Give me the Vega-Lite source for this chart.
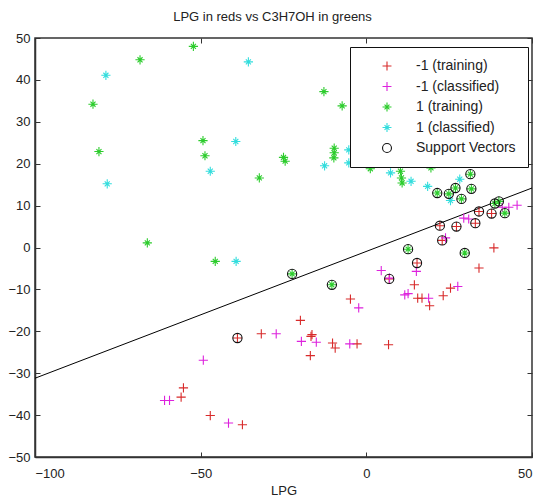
{
  "$schema": "https://vega.github.io/schema/vega-lite/v6.json",
  "width": 497,
  "height": 419,
  "autosize": "none",
  "padding": {"left": 35, "top": 38, "right": 7, "bottom": 45},
  "background": "white",
  "config": {
    "font": "Liberation Sans",
    "view": {"stroke": "#333333", "strokeWidth": 1.5},
    "axis": {
      "grid": false,
      "domainColor": "#333333",
      "domainWidth": 1.5,
      "tickColor": "#333333",
      "tickSize": -5,
      "labelFontSize": 13,
      "labelColor": "#222222",
      "labelFont": "Liberation Sans",
      "titleFont": "Liberation Sans",
      "titleFontSize": 13,
      "titleFontWeight": "normal",
      "titleColor": "#222222"
    }
  },
  "title": {
    "text": "LPG in reds vs C3H7OH in greens",
    "fontSize": 13,
    "fontWeight": "normal",
    "font": "Liberation Sans",
    "color": "#222222",
    "offset": 8,
    "dx": -11
  },
  "datasets": {
    "boundary": [
      {"x": -100, "y": -31.2},
      {"x": 50, "y": 14.2}
    ],
    "points": [
      {"x": 38.5, "y": -0.1, "g": "-1 (training)"},
      {"x": 34.0, "y": -4.9, "g": "-1 (training)"},
      {"x": 14.5, "y": -8.9, "g": "-1 (training)"},
      {"x": 15.5, "y": -12.1, "g": "-1 (training)"},
      {"x": 16.8, "y": -12.1, "g": "-1 (training)"},
      {"x": 19.1, "y": -13.9, "g": "-1 (training)"},
      {"x": 23.2, "y": -11.5, "g": "-1 (training)"},
      {"x": 25.4, "y": -9.7, "g": "-1 (training)"},
      {"x": -4.8, "y": -12.3, "g": "-1 (training)"},
      {"x": -19.9, "y": -17.4, "g": "-1 (training)"},
      {"x": -31.7, "y": -20.6, "g": "-1 (training)"},
      {"x": -16.7, "y": -21.2, "g": "-1 (training)"},
      {"x": -16.4, "y": -20.8, "g": "-1 (training)"},
      {"x": -16.9, "y": -25.8, "g": "-1 (training)"},
      {"x": -10.2, "y": -22.8, "g": "-1 (training)"},
      {"x": -9.4, "y": -24.0, "g": "-1 (training)"},
      {"x": -2.8, "y": -23.0, "g": "-1 (training)"},
      {"x": 6.7, "y": -23.2, "g": "-1 (training)"},
      {"x": -47.1, "y": -40.1, "g": "-1 (training)"},
      {"x": -37.4, "y": -42.3, "g": "-1 (training)"},
      {"x": -55.2, "y": -33.5, "g": "-1 (training)"},
      {"x": -55.9, "y": -35.7, "g": "-1 (training)"},
      {"x": 22.2, "y": 5.2, "g": "-1 (training)"},
      {"x": 27.2, "y": 5.0, "g": "-1 (training)"},
      {"x": 32.9, "y": 5.8, "g": "-1 (training)"},
      {"x": 34.0, "y": 8.6, "g": "-1 (training)"},
      {"x": 37.8, "y": 8.1, "g": "-1 (training)"},
      {"x": 22.9, "y": 1.7, "g": "-1 (training)"},
      {"x": 15.3, "y": -3.7, "g": "-1 (training)"},
      {"x": 6.9, "y": -7.5, "g": "-1 (training)"},
      {"x": -38.9, "y": -21.6, "g": "-1 (training)"},
      {"x": 29.4, "y": 7.0, "g": "-1 (classified)"},
      {"x": 30.9, "y": 6.8, "g": "-1 (classified)"},
      {"x": 41.0, "y": 9.6, "g": "-1 (classified)"},
      {"x": 43.0, "y": 9.6, "g": "-1 (classified)"},
      {"x": 45.5, "y": 10.1, "g": "-1 (classified)"},
      {"x": 23.9, "y": 2.3, "g": "-1 (classified)"},
      {"x": 15.1, "y": -5.7, "g": "-1 (classified)"},
      {"x": 4.5, "y": -5.5, "g": "-1 (classified)"},
      {"x": 7.0, "y": -7.3, "g": "-1 (classified)"},
      {"x": 11.6, "y": -11.3, "g": "-1 (classified)"},
      {"x": 12.6, "y": -11.0, "g": "-1 (classified)"},
      {"x": 18.8, "y": -12.1, "g": "-1 (classified)"},
      {"x": 27.6, "y": -9.3, "g": "-1 (classified)"},
      {"x": -2.3, "y": -14.4, "g": "-1 (classified)"},
      {"x": -27.2, "y": -20.6, "g": "-1 (classified)"},
      {"x": -19.6, "y": -22.4, "g": "-1 (classified)"},
      {"x": -15.1, "y": -22.6, "g": "-1 (classified)"},
      {"x": -5.0, "y": -23.0, "g": "-1 (classified)"},
      {"x": -49.2, "y": -26.9, "g": "-1 (classified)"},
      {"x": -41.6, "y": -41.9, "g": "-1 (classified)"},
      {"x": -60.9, "y": -36.5, "g": "-1 (classified)"},
      {"x": -59.4, "y": -36.5, "g": "-1 (classified)"},
      {"x": -52.2, "y": 48.0, "g": "1 (training)"},
      {"x": -68.3, "y": 44.8, "g": "1 (training)"},
      {"x": -82.5, "y": 34.2, "g": "1 (training)"},
      {"x": -49.3, "y": 25.5, "g": "1 (training)"},
      {"x": -48.7, "y": 21.9, "g": "1 (training)"},
      {"x": -80.7, "y": 22.9, "g": "1 (training)"},
      {"x": -12.8, "y": 37.2, "g": "1 (training)"},
      {"x": -7.3, "y": 33.8, "g": "1 (training)"},
      {"x": -25.0, "y": 21.5, "g": "1 (training)"},
      {"x": -24.5, "y": 20.6, "g": "1 (training)"},
      {"x": -32.3, "y": 16.6, "g": "1 (training)"},
      {"x": -9.7, "y": 23.7, "g": "1 (training)"},
      {"x": -9.7, "y": 22.6, "g": "1 (training)"},
      {"x": -9.8, "y": 21.4, "g": "1 (training)"},
      {"x": 1.2, "y": 18.8, "g": "1 (training)"},
      {"x": 10.3, "y": 18.2, "g": "1 (training)"},
      {"x": 10.6, "y": 16.6, "g": "1 (training)"},
      {"x": 10.8, "y": 15.4, "g": "1 (training)"},
      {"x": 19.5, "y": 19.0, "g": "1 (training)"},
      {"x": -45.6, "y": -3.3, "g": "1 (training)"},
      {"x": -66.1, "y": 1.1, "g": "1 (training)"},
      {"x": 31.4, "y": 17.5, "g": "1 (training)"},
      {"x": 31.7, "y": 14.0, "g": "1 (training)"},
      {"x": 21.4, "y": 13.0, "g": "1 (training)"},
      {"x": 24.9, "y": 12.8, "g": "1 (training)"},
      {"x": 26.9, "y": 14.2, "g": "1 (training)"},
      {"x": 28.7, "y": 11.6, "g": "1 (training)"},
      {"x": 38.8, "y": 10.5, "g": "1 (training)"},
      {"x": 40.0, "y": 11.0, "g": "1 (training)"},
      {"x": 41.8, "y": 8.2, "g": "1 (training)"},
      {"x": -22.4, "y": -6.3, "g": "1 (training)"},
      {"x": -10.4, "y": -8.9, "g": "1 (training)"},
      {"x": 12.6, "y": -0.4, "g": "1 (training)"},
      {"x": 29.7, "y": -1.3, "g": "1 (training)"},
      {"x": -78.6, "y": 41.1, "g": "1 (classified)"},
      {"x": -78.2, "y": 15.2, "g": "1 (classified)"},
      {"x": -47.1, "y": 18.2, "g": "1 (classified)"},
      {"x": -35.6, "y": 44.3, "g": "1 (classified)"},
      {"x": -39.4, "y": 25.3, "g": "1 (classified)"},
      {"x": -12.6, "y": 19.5, "g": "1 (classified)"},
      {"x": -5.3, "y": 20.2, "g": "1 (classified)"},
      {"x": -5.3, "y": 23.3, "g": "1 (classified)"},
      {"x": 7.3, "y": 17.8, "g": "1 (classified)"},
      {"x": 13.5, "y": 15.8, "g": "1 (classified)"},
      {"x": 18.5, "y": 14.6, "g": "1 (classified)"},
      {"x": 28.2, "y": 16.3, "g": "1 (classified)"},
      {"x": 25.4, "y": 11.2, "g": "1 (classified)"},
      {"x": -39.3, "y": -3.3, "g": "1 (classified)"},
      {"x": 31.4, "y": 17.5, "g": "Support Vectors"},
      {"x": 31.7, "y": 14.0, "g": "Support Vectors"},
      {"x": 21.4, "y": 13.0, "g": "Support Vectors"},
      {"x": 24.9, "y": 12.8, "g": "Support Vectors"},
      {"x": 26.9, "y": 14.2, "g": "Support Vectors"},
      {"x": 28.7, "y": 11.6, "g": "Support Vectors"},
      {"x": 38.8, "y": 10.5, "g": "Support Vectors"},
      {"x": 40.0, "y": 11.0, "g": "Support Vectors"},
      {"x": 41.8, "y": 8.2, "g": "Support Vectors"},
      {"x": -22.4, "y": -6.3, "g": "Support Vectors"},
      {"x": -10.4, "y": -8.9, "g": "Support Vectors"},
      {"x": 12.6, "y": -0.4, "g": "Support Vectors"},
      {"x": 29.7, "y": -1.3, "g": "Support Vectors"},
      {"x": 22.2, "y": 5.2, "g": "Support Vectors"},
      {"x": 27.2, "y": 5.0, "g": "Support Vectors"},
      {"x": 32.9, "y": 5.8, "g": "Support Vectors"},
      {"x": 34.0, "y": 8.6, "g": "Support Vectors"},
      {"x": 37.8, "y": 8.1, "g": "Support Vectors"},
      {"x": 22.9, "y": 1.7, "g": "Support Vectors"},
      {"x": 15.3, "y": -3.7, "g": "Support Vectors"},
      {"x": 6.9, "y": -7.5, "g": "Support Vectors"},
      {"x": -38.9, "y": -21.6, "g": "Support Vectors"}
    ]
  },
  "layer": [
    {
      "data": {"name": "boundary"},
      "mark": {"type": "line", "color": "black", "strokeWidth": 1},
      "encoding": {
        "x": {
          "field": "x", "type": "quantitative",
          "scale": {"domain": [-100, 50], "nice": false, "zero": false},
          "axis": {"orient": "top", "labels": false, "title": null, "values": [-100, -50, 0, 50], "domain": false}
        },
        "y": {
          "field": "y", "type": "quantitative",
          "scale": {"domain": [-50, 50], "nice": false, "zero": false},
          "axis": {"orient": "right", "labels": false, "title": null, "values": [-50, -40, -30, -20, -10, 0, 10, 20, 30, 40, 50], "domain": false}
        }
      }
    },
    {
      "data": {"name": "points"},
      "mark": {"type": "point", "filled": false, "strokeWidth": 1.1, "opacity": 1, "size": 85},
      "encoding": {
        "x": {
          "field": "x", "type": "quantitative",
          "scale": {"domain": [-100, 50], "nice": false, "zero": false},
          "axis": {"orient": "bottom", "title": "LPG", "values": [-100, -50, 0, 50], "labelPadding": 15, "titlePadding": 4}
        },
        "y": {
          "field": "y", "type": "quantitative",
          "scale": {"domain": [-50, 50], "nice": false, "zero": false},
          "axis": {"orient": "left", "title": null, "values": [-50, -40, -30, -20, -10, 0, 10, 20, 30, 40, 50], "labelPadding": 10}
        },
        "color": {
          "field": "g", "type": "nominal",
          "scale": {
            "domain": ["-1 (training)", "-1 (classified)", "1 (training)", "1 (classified)", "Support Vectors"],
            "range": ["#d82a2a", "#dd22dd", "#2ccc2c", "#33dddd", "#111111"]
          },
          "legend": {
            "orient": "none",
            "legendX": 315,
            "legendY": 9,
            "title": null,
            "fillColor": "white",
            "strokeColor": "#111111",
            "padding": 12,
            "rowPadding": 6.5,
            "labelFontSize": 14,
            "labelFont": "Liberation Sans",
            "labelColor": "#222222",
            "symbolSize": 80,
            "symbolStrokeWidth": 1.1,
            "symbolOffset": 18,
            "labelOffset": 22
          }
        },
        "shape": {
          "field": "g", "type": "nominal",
          "scale": {
            "domain": ["-1 (training)", "-1 (classified)", "1 (training)", "1 (classified)", "Support Vectors"],
            "range": [
              "M-1,0H1M0,-1V1",
              "M-1,0H1M0,-1V1",
              "M-1,0H1M0,-1V1M-0.55,-0.55L0.55,0.55M-0.55,0.55L0.55,-0.55",
              "M-1,0H1M0,-1V1M-0.55,-0.55L0.55,0.55M-0.55,0.55L0.55,-0.55",
              "circle"
            ]
          },
          "legend": null
        }
      }
    }
  ],
  "resolve": {"axis": {"x": "independent", "y": "independent"}}
}
